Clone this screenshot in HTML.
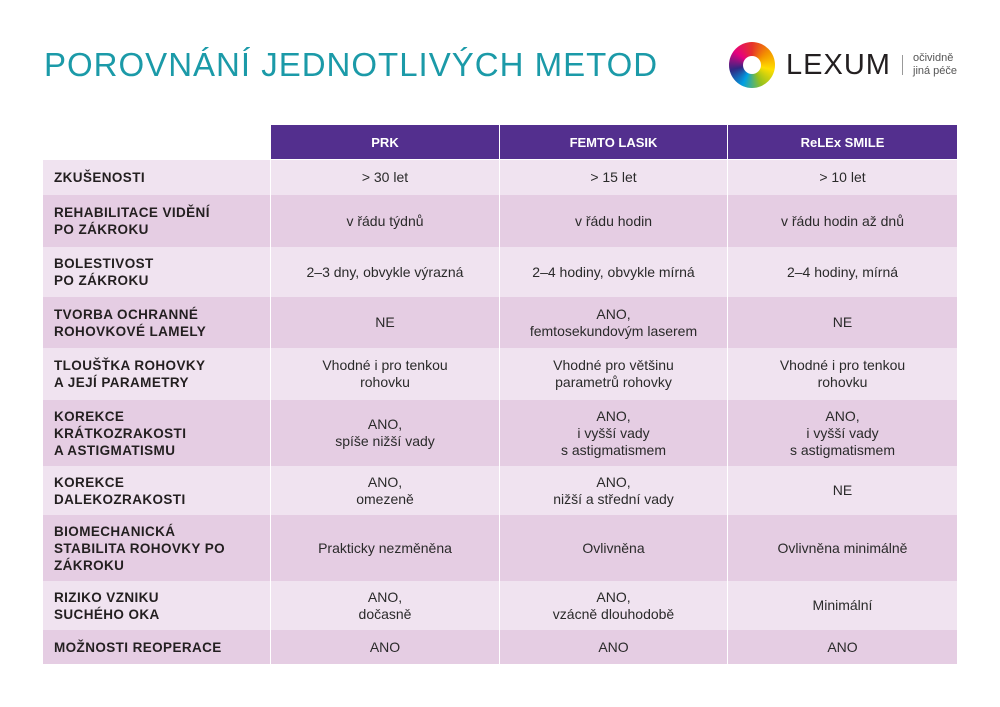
<!DOCTYPE html>
<html><head><meta charset="utf-8"><style>
body{margin:0;width:1000px;height:707px;background:#fff;position:relative;overflow:hidden;font-family:"Liberation Sans",sans-serif;}
.t{position:absolute;left:44px;top:46px;font-size:33px;color:#1b9aa8;letter-spacing:1px;}
.c{position:absolute;display:flex;align-items:center;justify-content:center;text-align:center;font-size:14px;color:#2a2a2a;line-height:17px;box-sizing:border-box;}
.l{justify-content:flex-start;text-align:left;font-weight:bold;padding-left:11px;font-size:13.5px;letter-spacing:.4px;color:#231f20;}
.h{background:#532f8e;color:#fff;font-weight:bold;font-size:13px;}
</style></head><body>
<div class="t">POROVNÁNÍ JEDNOTLIVÝCH METOD</div>
<div style="position:absolute;left:729px;top:42px;width:46px;height:46px;border-radius:50%;background:conic-gradient(#e6332a,#f39200,#ffde00,#95c11f,#009fe3,#312783,#e6007e,#e6332a);"></div>
<div style="position:absolute;left:743px;top:56px;width:18px;height:18px;border-radius:50%;background:#fff"></div>
<div style="position:absolute;left:786px;top:49px;font-size:29px;color:#231f20;letter-spacing:1px;">LEXUM</div>
<div style="position:absolute;left:902px;top:55px;width:1px;height:20px;background:#999"></div>
<div style="position:absolute;left:913px;top:52px;font-size:11px;color:#555;line-height:13px;">očividně<br>jiná péče</div>
<div id="tb"></div>
<script>
var rows=[[160,195,"ZKUŠENOSTI","&gt; 30 let","&gt; 15 let","&gt; 10 let"],
[195,247,"REHABILITACE VIDĚNÍ<br>PO ZÁKROKU","v řádu týdnů","v řádu hodin","v řádu hodin až dnů"],
[247,297,"BOLESTIVOST<br>PO ZÁKROKU","2–3 dny, obvykle výrazná","2–4 hodiny, obvykle mírná","2–4 hodiny, mírná"],
[297,348,"TVORBA OCHRANNÉ<br>ROHOVKOVÉ LAMELY","NE","ANO,<br>femtosekundovým laserem","NE"],
[348,400,"TLOUŠŤKA ROHOVKY<br>A JEJÍ PARAMETRY","Vhodné i pro tenkou<br>rohovku","Vhodné pro většinu<br>parametrů rohovky","Vhodné i pro tenkou<br>rohovku"],
[400,466,"KOREKCE<br>KRÁTKOZRAKOSTI<br>A ASTIGMATISMU","ANO,<br>spíše nižší vady","ANO,<br>i vyšší vady<br>s astigmatismem","ANO,<br>i vyšší vady<br>s astigmatismem"],
[466,515,"KOREKCE<br>DALEKOZRAKOSTI","ANO,<br>omezeně","ANO,<br>nižší a střední vady","NE"],
[515,581,"BIOMECHANICKÁ<br>STABILITA ROHOVKY PO<br>ZÁKROKU","Prakticky nezměněna","Ovlivněna","Ovlivněna minimálně"],
[581,630,"RIZIKO VZNIKU<br>SUCHÉHO OKA","ANO,<br>dočasně","ANO,<br>vzácně dlouhodobě","Minimální"],
[630,664,"MOŽNOSTI REOPERACE","ANO","ANO","ANO"]];
var xs=[[43,270],[271,499],[500,727],[728,957]];
var h="";
["PRK","FEMTO LASIK","ReLEx SMILE"].forEach(function(s,i){var x=xs[i+1];h+='<div class="c h" style="left:'+x[0]+'px;width:'+(x[1]-x[0])+'px;top:125px;height:34px">'+s+'</div>';});
rows.forEach(function(r,k){var bg=k%2?"#e5cde3":"#f0e3f0";for(var i=0;i<4;i++){var x=xs[i];h+='<div class="c'+(i?'':' l')+'" style="background:'+bg+';left:'+x[0]+'px;width:'+(x[1]-x[0])+'px;top:'+r[0]+'px;height:'+(r[1]-r[0])+'px">'+r[i+2]+'</div>';}});
document.getElementById("tb").innerHTML=h;
</script>
</body></html>
